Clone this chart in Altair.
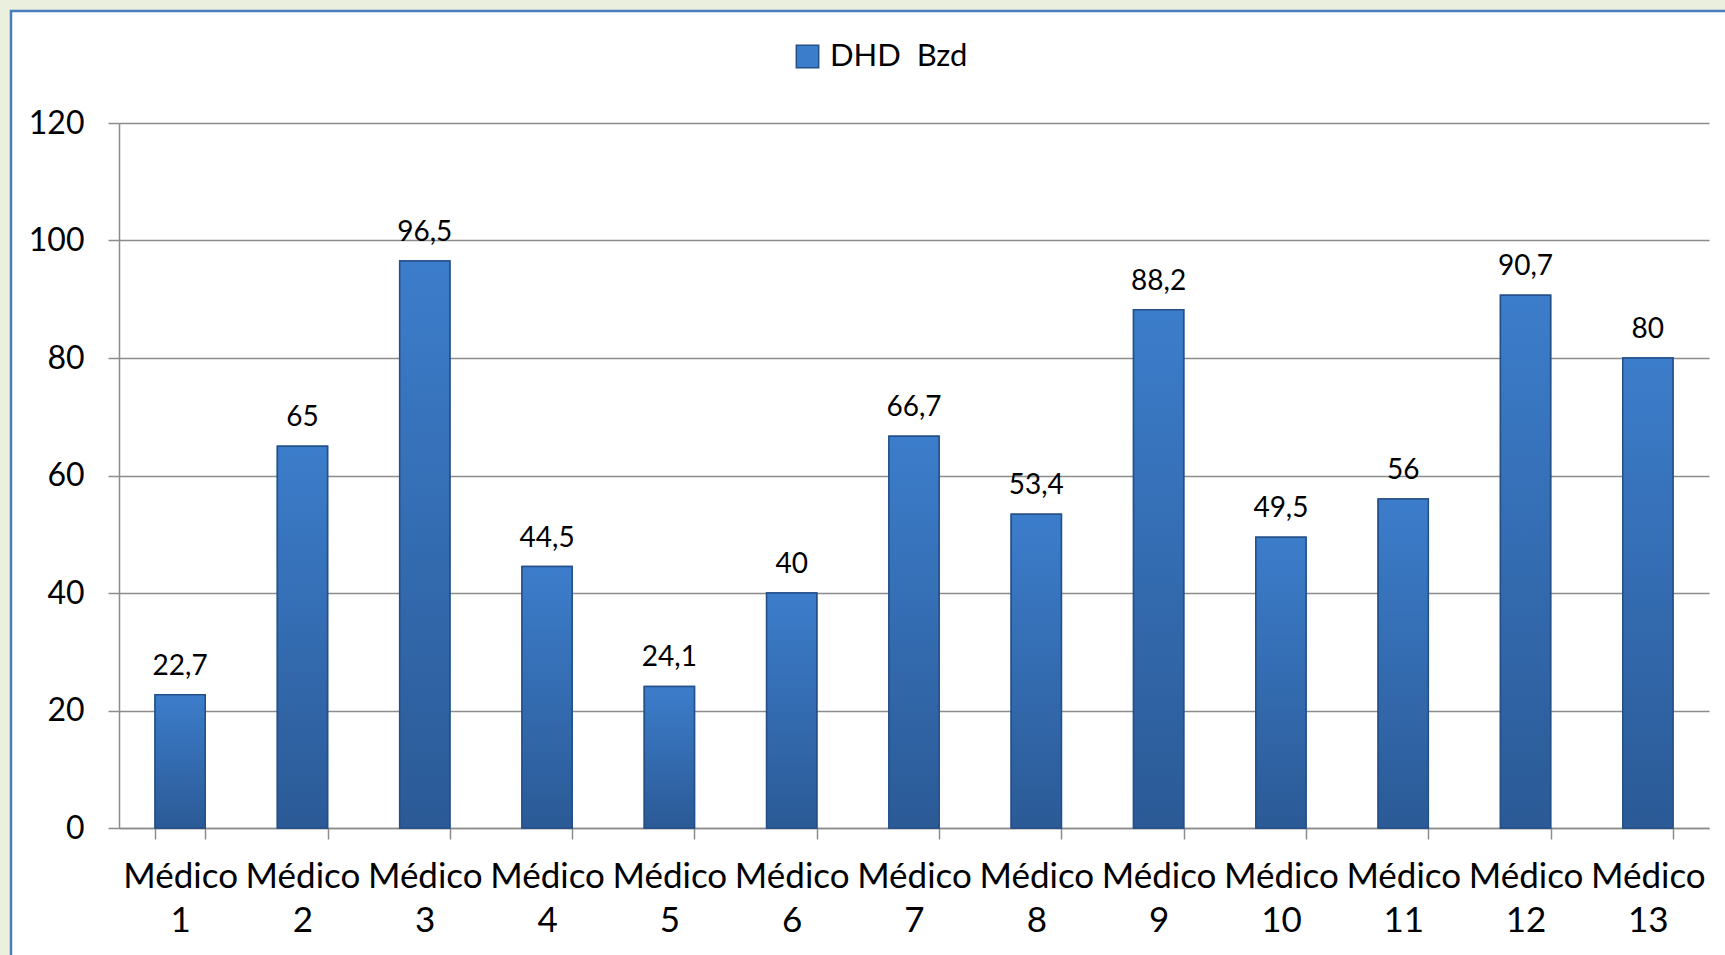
import altair as alt
import pandas as pd

# Datos: DHD de benzodiacepinas por médico
medicos = ["Médico 1", "Médico 2", "Médico 3", "Médico 4", "Médico 5", "Médico 6", "Médico 7",
           "Médico 8", "Médico 9", "Médico 10", "Médico 11", "Médico 12", "Médico 13"]
dhd = [22.7, 65, 96.5, 44.5, 24.1, 40, 66.7, 53.4, 88.2, 49.5, 56, 90.7, 80]
serie = "DHD\u00a0 Bzd"
y_ticks = [0, 20, 40, 60, 80, 100, 120]

df = pd.DataFrame({"medico": medicos, "valor": dhd, "serie": serie})

FONT = "Lato"
GRID = "#8C8C8C"
BAR_TOP = "#3C7DCB"
BAR_BOTTOM = "#2B5A96"
BAR_EDGE = "#24508A"
PAPER = "#EBEFDD"
FRAME = "#4A7EBB"

W, H = 1590, 705
PAD = {"left": 119, "top": 123, "right": 16, "bottom": 127}

x_enc = alt.X(
    "medico:N", sort=medicos, title=None,
    scale=alt.Scale(paddingInner=0.59, paddingOuter=0.295),
    axis=alt.Axis(
        labelExpr="isValid(datum.value) ? split(datum.value, ' ') : ''",
        labelAngle=0, labelFont=FONT,
        labelFontSize=35, labelColor="black", labelLineHeight=44, labelPadding=20,
        tickBand="extent", tickColor=GRID, tickSize=11, tickWidth=1.5,
        domainColor=GRID, domainWidth=1.5, grid=False,
    ),
)
y_enc = alt.Y(
    "valor:Q", title=None,
    scale=alt.Scale(domain=[0, 120], nice=False),
    axis=alt.Axis(
        values=y_ticks, labelFont=FONT, labelFontSize=32, labelColor="black",
        labelPadding=24, tickColor=GRID, tickSize=11, tickWidth=1.5,
        domainColor=GRID, domainWidth=1.5, gridColor=GRID, gridWidth=1.5,
    ),
)

base = alt.Chart(df)

# flat bars that feed the legend
bars_flat = base.mark_bar(stroke=BAR_EDGE, strokeWidth=1.5).encode(
    x=x_enc, y=y_enc,
    color=alt.Color(
        "serie:N", scale=alt.Scale(range=[BAR_TOP]),
        legend=alt.Legend(
            title=None, orient="none", legendX=673, legendY=-82,
            symbolType="square", symbolSize=500, symbolStrokeColor=BAR_EDGE,
            symbolStrokeWidth=1.5, labelFont=FONT, labelFontSize=31,
            labelColor="black", labelOffset=7, padding=0,
        ),
    ),
)

# gradient bars on top
bars = base.mark_bar(
    stroke=BAR_EDGE, strokeWidth=1.5,
    fill=alt.Gradient(
        gradient="linear", x1=0, y1=0, x2=0, y2=1,
        stops=[alt.GradientStop(color=BAR_TOP, offset=0),
               alt.GradientStop(color=BAR_BOTTOM, offset=1)],
    ),
).encode(x=x_enc, y=y_enc)

labels = base.transform_calculate(
    etiqueta="replace(toString(datum.valor), '.', ',')"
).mark_text(font=FONT, fontSize=28, color="black", baseline="alphabetic", dy=-20).encode(
    x=x_enc, y=y_enc, text="etiqueta:N"
)

one = alt.Data(values=[{"k": 1}])
paper_top = alt.Chart(one).mark_rect(fill=PAPER).encode(
    x=alt.value(-PAD["left"]), x2=alt.value(W + PAD["right"]),
    y=alt.value(-PAD["top"]), y2=alt.value(-PAD["top"] + 10),
)
paper_left = alt.Chart(one).mark_rect(fill=PAPER).encode(
    x=alt.value(-PAD["left"]), x2=alt.value(-PAD["left"] + 10),
    y=alt.value(-PAD["top"]), y2=alt.value(H + PAD["bottom"]),
)
frame = alt.Chart(one).mark_rect(fill="white", fillOpacity=0, stroke=FRAME, strokeWidth=2.5).encode(
    x=alt.value(-PAD["left"] + 11), x2=alt.value(W + PAD["right"] + 20),
    y=alt.value(-PAD["top"] + 11), y2=alt.value(H + PAD["bottom"] + 20),
)

chart = alt.layer(bars_flat, bars, labels, paper_top, paper_left, frame).properties(
    width=W, height=H,
    autosize=alt.AutoSizeParams(type="none"),
    padding=PAD,
    background="white",
).configure_view(stroke=None)

chart.save("out.html", embed_options={"renderer": "svg", "actions": False})
